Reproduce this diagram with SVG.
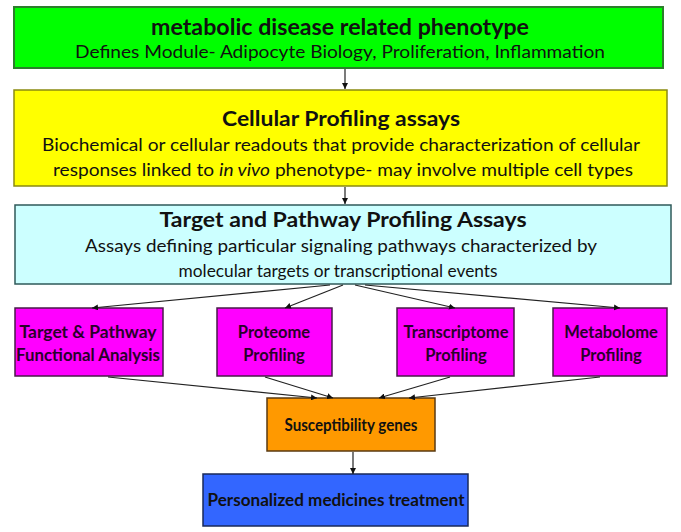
<svg xmlns="http://www.w3.org/2000/svg" width="681" height="532" viewBox="0 0 681 532">
<style>
text{font-family:Lato,"Liberation Sans",sans-serif;text-anchor:middle;fill:#111}
.t{font-weight:bold;font-size:22px}
.s{font-size:17px}
.b{font-weight:bold;font-size:16.5px;fill:#2a002a}
.c line{stroke:#222;stroke-width:1.2;marker-end:url(#a)}
</style>
<defs>
<marker id="a" viewBox="0 0 8 8" refX="8" refY="4" markerWidth="6" markerHeight="6" markerUnits="userSpaceOnUse" orient="auto"><path d="M0,0L8,4L0,8z" fill="#111"/></marker>
</defs>
<g id="n1"><rect x="14" y="7" width="649" height="61" fill="#00ff00" stroke="#2b7f2b" stroke-width="2"/>
<text class="t" x="340" y="35" textLength="378" lengthAdjust="spacingAndGlyphs">metabolic disease related phenotype</text>
<text class="s" x="340" y="58" textLength="530" lengthAdjust="spacingAndGlyphs">Defines Module- Adipocyte Biology, Proliferation,  Inflammation</text></g>
<g id="n2"><rect x="14" y="90" width="653" height="96" fill="#ffff00" stroke="#8a8a10" stroke-width="1.5"/>
<text class="t" x="341" y="126" textLength="238" lengthAdjust="spacingAndGlyphs" style="font-size:21px">Cellular Profiling assays</text>
<text class="s" x="341" y="151" textLength="598" lengthAdjust="spacingAndGlyphs">Biochemical or cellular readouts that provide characterization of cellular</text>
<text class="s" x="343" y="176" textLength="580" lengthAdjust="spacingAndGlyphs">responses linked to <tspan font-style="italic">in vivo</tspan> phenotype- may involve multiple cell types</text></g>
<g id="n3"><rect x="15" y="205" width="656" height="79" fill="#ccffff" stroke="#2f5a5a" stroke-width="1.5"/>
<text class="t" x="343" y="227" textLength="367" lengthAdjust="spacingAndGlyphs" style="font-size:21px">Target and Pathway Profiling Assays</text>
<text class="s" x="341" y="252" textLength="512" lengthAdjust="spacingAndGlyphs">Assays defining particular signaling pathways characterized by</text>
<text class="s" x="338" y="277" textLength="319" lengthAdjust="spacingAndGlyphs">molecular targets or transcriptional events</text></g>
<g id="n4"><rect x="15" y="308" width="148" height="68" fill="#ff00ff" stroke="#4a1a4a" stroke-width="1.5"/>
<text class="b" x="88" y="338" textLength="137" lengthAdjust="spacingAndGlyphs">Target &amp; Pathway</text>
<text class="b" x="88" y="361" textLength="144" lengthAdjust="spacingAndGlyphs">Functional Analysis</text></g>
<g id="n5"><rect x="217" y="308" width="115" height="68" fill="#ff00ff" stroke="#4a1a4a" stroke-width="1.5"/>
<text class="b" x="274" y="338">Proteome</text>
<text class="b" x="274" y="361">Profiling</text></g>
<g id="n6"><rect x="397" y="308" width="117" height="68" fill="#ff00ff" stroke="#4a1a4a" stroke-width="1.5"/>
<text class="b" x="456" y="338">Transcriptome</text>
<text class="b" x="456" y="361">Profiling</text></g>
<g id="n7"><rect x="553" y="308" width="114" height="68" fill="#ff00ff" stroke="#4a1a4a" stroke-width="1.5"/>
<text class="b" x="611" y="338">Metabolome</text>
<text class="b" x="611" y="361">Profiling</text></g>
<g id="n8"><rect x="267" y="398" width="168" height="53" fill="#ff9900" stroke="#5a3a10" stroke-width="1.5"/>
<text class="b" x="351" y="431" textLength="133" lengthAdjust="spacingAndGlyphs" style="fill:#111">Susceptibility genes</text></g>
<g id="n9"><rect x="203" y="474" width="265" height="52" fill="#3366ff" stroke="#1a2a5a" stroke-width="1.5"/>
<text class="b" x="336" y="506" textLength="257" lengthAdjust="spacingAndGlyphs" style="fill:#111">Personalized medicines treatment</text></g>
<g class="c" id="connectors">
<line x1="345" y1="69" x2="345" y2="89"/>
<line x1="345" y1="187" x2="345" y2="204"/>
<line x1="330" y1="285" x2="92" y2="308"/>
<line x1="343" y1="285" x2="285" y2="308"/>
<line x1="355" y1="285" x2="455" y2="308"/>
<line x1="365" y1="285" x2="620" y2="308"/>
<line x1="108" y1="377" x2="317" y2="398"/>
<line x1="265" y1="377" x2="333" y2="398"/>
<line x1="450" y1="377" x2="379" y2="398"/>
<line x1="600" y1="377" x2="409" y2="398"/>
<line x1="353" y1="452" x2="353" y2="474"/>
</g>
</svg>
